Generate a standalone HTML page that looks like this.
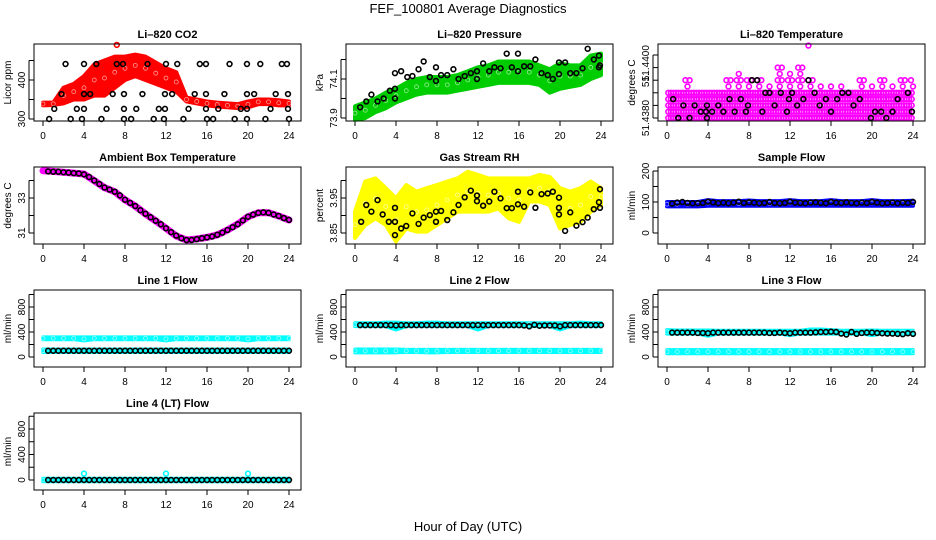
<!DOCTYPE html>
<html><head><meta charset="utf-8">
<style>
html,body{margin:0;padding:0;background:#fff;}
svg{display:block;font-family:"Liberation Sans",sans-serif;}
</style></head>
<body>
<svg id="fig" width="936" height="540" viewBox="0 0 936 540">
<rect width="936" height="540" fill="#fff"/>
<text x="468" y="13" text-anchor="middle" font-size="13">FEF_100801  Average Diagnostics</text>
<text x="468" y="531" text-anchor="middle" font-size="13">Hour of Day (UTC)</text>
</svg>
<script>
// ---------- shared categories ----------
const hours = [0,1,2,3,4,5,6,7,8,9,10,11,12,13,14,15,16,17,18,19,20,21,22,23,24];
const halfHours = [0.5,1,1.5,2,2.5,3,3.5,4,4.5,5,5.5,6,6.5,7,7.5,8,8.5,9,9.5,10,10.5,11,11.5,12,12.5,13,13.5,14,14.5,15,15.5,16,16.5,17,17.5,18,18.5,19,19.5,20,20.5,21,21.5,22,22.5,23,23.5,24];
const xTicks = [0,4,8,12,16,20,24];

// ---------- CO2 ----------
const co2Lo = [335,336,340,350,350,360,360,380,400,410,400,390,380,370,345,340,335,332,330,328,330,338,338,335,335];
const co2Hi = [342,342,380,390,410,440,450,460,460,465,460,445,430,420,355,350,345,342,340,338,345,350,350,348,345];
const co2BlackX = [2.2,4.0,5.2,7.2,7.8,10.2,12.0,13.1,15.3,15.9,18.2,19.9,21.2,23.3,23.8,1.8,4.0,4.6,6.8,7.9,9.7,11.9,12.6,14.8,15.9,17.7,19.9,20.6,22.7,23.9,1.1,3.3,4.0,6.2,7.9,9.1,11.3,11.9,14.2,15.9,17.1,19.3,19.9,22.2,23.9,0.6,2.7,3.8,5.7,7.9,8.6,10.8,11.8,13.7,16.0,16.6,18.7,19.9,21.7,24.0];
const co2BlackY = [441,441,441,441,441,441,441,441,441,441,441,441,441,441,441,364,364,364,364,364,364,364,364,364,364,364,364,364,364,364,326,326,326,326,326,326,326,326,326,326,326,326,326,326,326,300,300,300,300,300,300,300,300,300,300,300,300,300,300,300];
const co2Outlier = [7.2, 490];

// ---------- Pressure ----------
const presLo = [73.89,73.90,73.93,73.95,73.98,74.00,74.02,74.03,74.03,74.03,74.04,74.05,74.06,74.07,74.08,74.08,74.08,74.08,74.07,74.03,74.05,74.06,74.07,74.10,74.12];
const presHi = [73.96,73.98,74.00,74.03,74.05,74.08,74.10,74.11,74.11,74.11,74.12,74.14,74.16,74.17,74.19,74.19,74.19,74.19,74.17,74.15,74.18,74.17,74.17,74.22,74.23];
const presBlackX = [0.5,1.1,1.6,2.2,2.8,3.4,3.9,3.9,3.9,4.5,5.1,5.6,6.2,6.7,7.3,7.9,7.9,8.4,9,9.6,10.1,10.7,11.3,11.9,11.9,12.5,13.1,13.6,14.2,14.8,15.3,15.9,15.9,16.5,17.1,17.6,18.2,18.8,19.3,19.9,19.9,20.5,21,21.6,22.2,22.7,23.3,23.8,23.8,23.9];
const presBlackY = [73.955,73.985,74.02,73.985,74.0,74.04,74.05,74.13,74.0,74.14,74.11,74.115,74.15,74.19,74.11,74.16,74.09,74.12,74.12,74.15,74.1,74.115,74.13,74.14,74.1,74.18,74.14,74.16,74.155,74.23,74.16,74.23,74.14,74.165,74.165,74.2,74.13,74.12,74.1,74.185,74.125,74.185,74.13,74.13,74.155,74.255,74.2,74.16,74.22,74.17];

// ---------- Li-820 Temperature (quantized levels) ----------
const tempMaxLevel = [4,4,6,4,4,4,6,7,6,6,5,8,7,8,6,5,5,5,4,6,5,6,5,6,6];
const tempOutlier = [13.8, 11.5];
const tempBlackX = [0.6,1.1,1.6,2.2,2.7,3.3,3.8,3.9,3.9,4.4,5.0,5.5,6.1,6.6,7.2,7.7,7.9,8.3,8.8,9.3,9.6,10,10.5,11.1,11.7,11.9,12.2,12.7,13.3,13.8,14.4,14.9,15.5,16,16.6,17.1,17.7,18.2,18.8,19.9,20.3,20.9,21.4,22,22.5,23.5,23.9];
const tempBlackY = [3,0,2,0,2,1,1,0,2,1,2,1,3,1,3,1,2,6,6,1,4,4,2,4,1,3,4,2,3,6,4,2,3,1,3,4,4,2,3,0,1,1,0,1,3,4,1];

// ---------- Ambient box temperature ----------
const ambient = [34.56,34.52,34.47,34.42,34.37,33.99,33.59,33.36,32.89,32.54,32.09,31.69,31.27,30.83,30.6,30.66,30.75,30.89,31.17,31.51,31.93,32.16,32.16,31.97,31.74];
const ambientBlack = [34.52,34.5,34.5,34.47,34.45,34.42,34.4,34.35,34.2,34.0,33.8,33.6,33.48,33.36,33.15,32.9,32.72,32.54,32.3,32.1,31.9,31.7,31.5,31.27,31.05,30.85,30.7,30.6,30.6,30.65,30.7,30.75,30.8,30.9,31.02,31.17,31.33,31.5,31.72,31.93,32.05,32.15,32.18,32.15,32.06,31.97,31.85,31.75];

// ---------- Gas stream RH ----------
const rhLo = [3.836,3.873,3.892,3.873,3.826,3.863,3.854,3.854,3.873,3.892,3.911,3.911,3.911,3.911,3.920,3.892,3.882,3.940,3.940,3.930,3.863,3.873,3.882,3.911,3.930];
const rhHi = [3.911,3.997,4.006,3.978,3.949,3.987,3.968,3.978,3.987,3.997,4.006,4.025,4.016,4.006,4.006,4.006,4.006,4.006,4.016,4.01,3.978,3.968,3.978,3.997,3.978];
const rhBlackX = [0.6,1.1,1.6,2.2,2.7,3.3,3.9,3.9,3.9,4.5,5.0,5.6,6.2,6.7,7.3,7.9,7.9,8.4,9.0,9.6,10.1,10.7,11.3,11.9,11.9,12.5,13.1,13.6,14.2,14.8,15.3,15.9,15.9,16.5,17.1,17.6,18.2,18.8,19.3,19.9,19.9,19.9,20.5,21.0,21.6,22.2,22.7,23.3,23.8,23.9,23.9];
const rhBlackY = [3.882,3.930,3.911,3.944,3.903,3.882,3.882,3.922,3.844,3.863,3.870,3.906,3.876,3.894,3.901,3.882,3.911,3.913,3.887,3.909,3.930,3.952,3.971,3.957,3.941,3.928,3.940,3.968,3.949,3.921,3.921,3.932,3.968,3.925,3.966,3.922,3.961,3.963,3.968,3.951,3.922,3.903,3.856,3.909,3.871,3.881,3.894,3.918,3.938,3.922,3.975];

// ---------- Flows ----------
const sampleLo = [86,86,86,86,88,88,88,88,88,88,88,88,88,88,88,88,88,88,88,88,88,88,88,88,88];
const sampleHi = [100,100,100,100,106,103,103,103,105,103,103,103,106,103,103,103,106,103,103,103,106,103,103,103,104];
const sampleBlack = [95,98,100,97,96,96,97,101,99,96,98,96,98,101,97,99,98,96,97,100,97,96,97,101,98,97,96,98,99,97,96,100,98,97,99,97,96,98,97,100,98,96,97,98,96,98,97,100];

const l1CyanTopLo = [285,285,285,285,265,285,285,285,285,285,285,285,265,285,285,285,285,285,285,285,265,285,285,285,285];
const l1CyanTopHi = [315,315,315,315,315,315,315,315,315,315,315,315,315,315,315,315,315,315,315,315,315,315,315,315,315];
const l1CyanBotLo = [80,80,80,80,80,80,80,80,80,80,80,80,80,80,80,80,80,80,80,80,80,80,80,80,80];
const l1CyanBotHi = [120,120,120,120,120,120,120,120,120,120,120,120,120,120,120,120,120,120,120,120,120,120,120,120,120];
const l1Black = [100,100,100,100,100,100,100,100,100,100,100,100,100,100,100,100,100,100,100,100,100,100,100,100,100,100,100,100,100,100,100,100,100,100,100,100,100,100,100,100,100,100,100,100,100,100,100,100];

const l2CyanTopLo = [495,495,495,495,440,495,495,495,495,495,495,495,440,495,495,495,495,495,495,495,440,495,495,495,495];
const l2CyanTopHi = [540,540,540,550,550,540,540,550,550,540,540,540,540,540,540,540,540,540,540,540,540,540,550,540,540];
const l2CyanBotLo = [75,75,75,75,75,80,80,75,75,80,80,80,80,80,80,80,80,80,80,80,80,80,80,80,80];
const l2CyanBotHi = [120,120,120,120,120,115,115,115,115,115,115,115,115,115,115,115,115,115,115,115,115,115,115,115,115];
const l2Black = [510,510,510,510,510,510,510,505,510,510,510,510,510,510,510,510,510,510,510,510,510,510,510,510,510,510,510,510,510,510,510,510,505,490,515,500,505,505,505,490,510,510,510,510,510,510,510,510];

const l3CyanTopLo = [375,375,375,375,340,375,375,375,375,375,375,375,350,375,375,375,375,375,375,375,350,375,375,375,375];
const l3CyanTopHi = [430,425,425,425,425,420,420,420,420,420,420,420,420,420,440,440,430,420,420,420,425,420,420,420,420];
const l3CyanBotLo = [60,60,60,60,60,60,60,60,60,60,60,60,60,60,60,60,60,60,60,60,60,60,60,60,60];
const l3CyanBotHi = [110,110,110,110,110,110,110,110,110,110,110,110,110,110,110,110,110,110,110,110,110,110,110,110,110];
const l3Black = [390,390,390,390,390,385,385,380,390,390,390,390,390,390,390,390,390,390,390,385,385,390,385,380,390,390,390,390,395,400,400,405,400,375,360,400,370,385,390,390,385,380,375,375,370,365,380,370];

const l4CyanLo = [-20,-20,-20,-20,-20,-20,-20,-20,-20,-20,-20,-20,-20,-20,-20,-20,-20,-20,-20,-20,-20,-20,-20,-20,-20];
const l4CyanHi = [20,20,20,20,20,20,20,20,20,20,20,20,20,20,20,20,20,20,20,20,20,20,20,20,20];
const l4SpikeX = [4,12,20];
const l4SpikeY = [100,100,100];
const l4Black = [0,0,0,0,0,0,0,0,0,0,0,0,0,0,0,0,0,0,0,0,0,0,0,0,0,0,0,0,0,0,0,0,0,0,0,0,0,0,0,0,0,0,0,0,0,0,0,0];

// ---------- rendering ----------
const NS = "http://www.w3.org/2000/svg";
const svg = document.getElementById("fig");
function mk(tag, attrs, parent){
  const e = document.createElementNS(NS, tag);
  for (const k in attrs) e.setAttribute(k, attrs[k]);
  (parent||svg).appendChild(e);
  return e;
}
function makePanel(col, row, name, title, ylab, v0, p0, v1, p1, yTicks, yLabels){
  const left = col*312+34, right = col*312+301, top = 44+row*123, bottom = top+77;
  const g = mk("g", {});
  
  
  const P = {g, left, right, top, bottom,
    x: h => col*312+43 + h*10.25,
    y: v => top + p0 + (v - v0) * (p1 - p0) / (v1 - v0)};
  const t = mk("text", {x:(left+right)/2, y:top-6, "text-anchor":"middle", "font-size":"11", "font-weight":"bold"}, g);
  t.textContent = title;
  
  
  const yl = mk("text", {transform:`translate(${left-23},${(top+bottom)/2}) rotate(-90)`, "text-anchor":"middle", "font-size":"10"}, g);
  yl.textContent = ylab;
  
  
  const xa = mk("g", {}, g);
  
  
  mk("line", {x1:P.x(xTicks[0]), x2:P.x(xTicks[xTicks.length-1]), y1:bottom, y2:bottom, stroke:"#000"}, xa);
  xTicks.forEach(h => {
    mk("line", {x1:P.x(h), x2:P.x(h), y1:bottom, y2:bottom+5, stroke:"#000"}, xa);
    const tl = mk("text", {x:P.x(h), y:bottom+18, "text-anchor":"middle", "font-size":"10"}, xa);
    tl.textContent = h;
  });
  const ya = mk("g", {}, g);
  
  
  const ys = yTicks.map(P.y);
  mk("line", {x1:left-5, x2:left-5, y1:Math.min(...ys), y2:Math.max(...ys), stroke:"#000"}, ya);
  yTicks.forEach(v => mk("line", {x1:left-5, x2:left, y1:P.y(v), y2:P.y(v), stroke:"#000"}, ya));
  yLabels.forEach(([v, s]) => {
    const tl = mk("text", {transform:`translate(${left-9},${P.y(v)}) rotate(-90)`, "text-anchor":"middle", "font-size":"10"}, ya);
    tl.textContent = s;
  });
  P.marks = mk("g", {}, g);
  
  
  return P;
}
function finishPanel(P){
  mk("rect", {x:P.left, y:P.top, width:P.right-P.left, height:P.bottom-P.top, fill:"none", stroke:"#000"}, P.g);
}
function band(P, xs, lo, hi, color, name){
  let d = "M" + xs.map((h,i) => P.x(h)+","+P.y(hi[i])).join(" L");
  for (let i = xs.length-1; i >= 0; i--) d += " L" + P.x(xs[i]) + "," + P.y(lo[i]);
  const p = mk("path", {d: d+"Z", fill:color, stroke:color, "stroke-width":"4", "stroke-linejoin":"round"}, P.marks);
  
  
  const texture = mk("g", {}, P.marks);
  xs.forEach((h,i) => {
    mk("circle", {cx:P.x(h), cy:(P.y(hi[i])+P.y(lo[i]))/2, r:2, fill:"none", stroke:"#fff", "stroke-width":"0.8", opacity:"0.6"}, texture);
  });
}
function pts(P, xs, ys, color, name){
  const g = mk("g", {}, P.marks);
  
  
  xs.forEach((h,i) => {
    const c = mk("circle", {cx:P.x(h), cy:P.y(ys[i]), r:2.4, fill:"none", stroke:color, "stroke-width":"1.6"}, g);
    
    
  });
}
function line(P, xs, ys, color, w, name){
  const p = mk("polyline", {points: xs.map((h,i)=>P.x(h)+","+P.y(ys[i])).join(" "), fill:"none", stroke:color, "stroke-width":w, "stroke-linejoin":"round", "stroke-linecap":"round"}, P.marks);
  
  
}

// CO2
let P = makePanel(0,0,"co2","Li\u2013820 CO2","Licor ppm",300,75,400,36,[300,350,400,450],[[300,"300"],[400,"400"]]);
band(P, hours, co2Lo, co2Hi, "#ff0000", "co2-red-series");
pts(P, [co2Outlier[0]], [co2Outlier[1]], "#ff0000", "co2-outlier");
pts(P, co2BlackX, co2BlackY, "#000", "co2-hourly-means");
finishPanel(P);

// Pressure
P = makePanel(1,0,"pressure","Li\u2013820 Pressure","kPa",73.9,74,74.1,35,[73.9,74.0,74.1,74.2],[[73.9,"73.9"],[74.1,"74.1"]]);
band(P, hours, presLo, presHi, "#00cd00", "pressure-green-series");
pts(P, presBlackX, presBlackY, "#000", "pressure-hourly-means");
finishPanel(P);

// Li-820 temperature
P = makePanel(2,0,"licor-temp","Li\u2013820 Temperature","degrees C",0,74,1,67.7,[0,2,4,6,8,10],[[0,"51.4380"],[6,"51."],[8.7,"51.4400"]]);
{
  const g = mk("g", {}, P.marks);
  
  
  const offs = [-0.375,-0.125,0.125,0.375];
  hours.forEach((h,i) => {
    for (let k = 0; k <= tempMaxLevel[i]; k++) {
      const list = k <= 4 ? offs : (k % 2 ? [0] : [-0.2,0.2]);
      list.forEach(o => {
        const hx = h + o;
        if (hx < 0 || hx > 24) return;
        mk("circle", {cx:P.x(hx), cy:P.y(k), r:2.4, fill:"none", stroke:"#ff00ff", "stroke-width":"1.6"}, g);
      });
    }
  });
}
pts(P, [tempOutlier[0]], [tempOutlier[1]], "#ff00ff", "licor-temp-outlier");
pts(P, tempBlackX, tempBlackY, "#000", "licor-temp-hourly-means");
finishPanel(P);

// Ambient
P = makePanel(0,1,"ambient-temp","Ambient Box Temperature","degrees C",31,66,33,31,[31,32,33,34],[[31,"31"],[33,"33"]]);
line(P, hours, ambient, "#ff00ff", 7, "ambient-temp-magenta-series");
pts(P, halfHours, ambientBlack, "#000", "ambient-temp-hourly-means");
finishPanel(P);

// RH
P = makePanel(1,1,"gas-rh","Gas Stream RH","percent",3.85,66,3.95,31,[3.85,3.90,3.95,4.00],[[3.85,"3.85"],[3.95,"3.95"]]);
band(P, hours, rhLo, rhHi, "#ffff00", "gas-rh-yellow-series");
pts(P, rhBlackX, rhBlackY, "#000", "gas-rh-hourly-means");
finishPanel(P);

// Sample flow
P = makePanel(2,1,"sample-flow","Sample Flow","ml/min",0,66,100,35,[0,50,100,150,200],[[0,"0"],[100,"100"],[200,"200"]]);
band(P, hours, sampleLo, sampleHi, "#0000ff", "sample-flow-blue-series");
pts(P, halfHours, sampleBlack, "#000", "sample-flow-hourly-means");
finishPanel(P);

const flowTicks = [0,200,400,600,800,1000];
const flowLabels = [[0,"0"],[400,"400"],[800,"800"]];
P = makePanel(0,2,"line1-flow","Line 1 Flow","ml/min",0,67,400,42,flowTicks,flowLabels);
band(P, hours, l1CyanTopLo, l1CyanTopHi, "#00ffff", "line1-cyan-upper-series");
band(P, hours, l1CyanBotLo, l1CyanBotHi, "#00ffff", "line1-cyan-lower-series");
pts(P, halfHours, l1Black, "#000", "line1-hourly-means");
finishPanel(P);
P = makePanel(1,2,"line2-flow","Line 2 Flow","ml/min",0,67,400,42,flowTicks,flowLabels);
band(P, hours, l2CyanTopLo, l2CyanTopHi, "#00ffff", "line2-cyan-upper-series");
band(P, hours, l2CyanBotLo, l2CyanBotHi, "#00ffff", "line2-cyan-lower-series");
pts(P, halfHours, l2Black, "#000", "line2-hourly-means");
finishPanel(P);
P = makePanel(2,2,"line3-flow","Line 3 Flow","ml/min",0,67,400,42,flowTicks,flowLabels);
band(P, hours, l3CyanTopLo, l3CyanTopHi, "#00ffff", "line3-cyan-upper-series");
band(P, hours, l3CyanBotLo, l3CyanBotHi, "#00ffff", "line3-cyan-lower-series");
pts(P, halfHours, l3Black, "#000", "line3-hourly-means");
finishPanel(P);
P = makePanel(0,3,"line4-flow","Line 4 (LT) Flow","ml/min",0,67,400,41.5,flowTicks,flowLabels);
band(P, hours, l4CyanLo, l4CyanHi, "#00ffff", "line4-cyan-series");
pts(P, l4SpikeX, l4SpikeY, "#00ffff", "line4-cyan-spikes");
pts(P, halfHours, l4Black, "#000", "line4-hourly-means");
finishPanel(P);
</script>
</body></html>
